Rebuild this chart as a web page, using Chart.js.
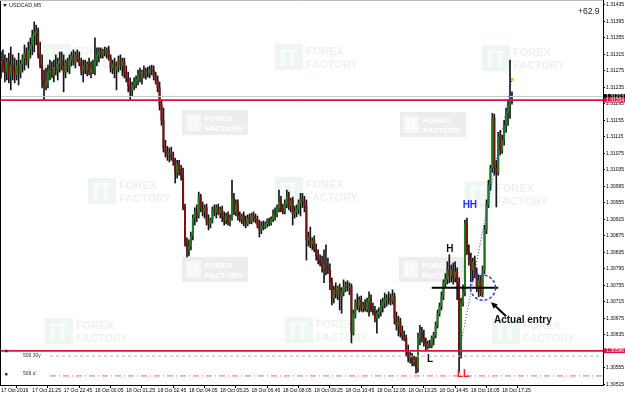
<!doctype html>
<html>
<head>
<meta charset="UTF-8">
<script src="https://cdn.jsdelivr.net/npm/chart.js"></script>
<style>
  html, body { margin: 0; padding: 0; background: #fff; }
</style>
</head>
<body>
<canvas id="chart" width="625" height="397"></canvas>
<script>
// USDCAD M5 bars from 17 Oct 2016 20:05
const openP = [
 1.31289,1.31301,1.31282,1.31272,1.31297,1.31265,1.31289,1.31277,1.31265,1.31287,
 1.31272,1.31292,1.31306,1.31318,1.31301,1.31326,1.31338,1.31362,1.31367,1.31374,
 1.31314,1.31289,1.31253,1.31241,1.31246,1.31272,1.31277,1.31265,1.31284,1.31277,
 1.31292,1.31301,1.31287,1.31272,1.31294,1.31282,1.31301,1.31311,1.31297,1.31314,
 1.31301,1.31294,1.31277,1.31287,1.31277,1.31292,1.31272,1.31282,1.31277,1.31301,
 1.31314,1.31321,1.31316,1.31323,1.31318,1.31326,1.31306,1.31282,1.31292,1.31277,
 1.31287,1.31301,1.31289,1.31297,1.31272,1.31258,1.31238,1.31229,1.31241,1.31248,
 1.31253,1.31265,1.31258,1.31272,1.31268,1.31272,1.31270,1.31277,1.31275,1.31263,
 1.31253,1.31234,1.31192,1.31155,1.31088,1.31078,1.31071,1.31075,1.31066,1.31058,
 1.31029,1.31049,1.31034,1.31022,1.30945,1.30858,1.30841,1.30850,1.30875,1.30918,
 1.30933,1.30923,1.30969,1.30940,1.30933,1.30943,1.30911,1.30904,1.30913,1.30938,
 1.30933,1.30943,1.30930,1.30938,1.30921,1.30913,1.30923,1.30909,1.30918,1.30966,
 1.30933,1.30950,1.30923,1.30918,1.30923,1.30909,1.30904,1.30918,1.30911,1.30923,
 1.30916,1.30913,1.30901,1.30889,1.30899,1.30896,1.30904,1.30911,1.30906,1.30916,
 1.30930,1.30926,1.30943,1.30957,1.30940,1.30935,1.30952,1.30971,1.30947,1.30960,
 1.30928,1.30933,1.30940,1.30955,1.30964,1.30957,1.30947,1.30865,1.30872,1.30855,
 1.30863,1.30843,1.30826,1.30816,1.30809,1.30797,1.30802,1.30797,1.30792,1.30763,
 1.30724,1.30744,1.30734,1.30749,1.30729,1.30739,1.30751,1.30756,1.30749,1.30753,
 1.30641,1.30685,1.30712,1.30704,1.30720,1.30700,1.30707,1.30697,1.30714,1.30724,
 1.30697,1.30690,1.30675,1.30685,1.30690,1.30704,1.30714,1.30720,1.30724,1.30722,
 1.30717,1.30729,1.30675,1.30658,1.30666,1.30639,1.30632,1.30627,1.30593,1.30578,
 1.30583,1.30569,1.30573,1.30554,1.30629,1.30639,1.30627,1.30615,1.30607,1.30612,
 1.30607,1.30627,1.30634,1.30658,1.30687,1.30704,1.30729,1.30761,1.30770,1.30792,
 1.30778,1.30792,1.30773,1.30787,1.30763,1.30593,1.30712,1.30739,1.30904,1.30836,
 1.30816,1.30792,1.30812,1.30783,1.30749,1.30768,1.30736,1.30792,1.30889,1.30950,
 1.30998,1.31039,1.31160,1.31039,1.31029,1.31117,1.31083,1.31107,1.31143,1.31175,
 1.31192,1.31209
];
const highP = [
 1.31321,1.31326,1.31314,1.31306,1.31318,1.31333,1.31314,1.31306,1.31301,1.31318,
 1.31301,1.31314,1.31338,1.31331,1.31345,1.31355,1.31374,1.31394,1.31386,1.31379,
 1.31345,1.31314,1.31277,1.31282,1.31289,1.31301,1.31297,1.31301,1.31314,1.31306,
 1.31321,1.31321,1.31314,1.31301,1.31306,1.31314,1.31321,1.31326,1.31321,1.31326,
 1.31321,1.31306,1.31301,1.31301,1.31297,1.31306,1.31297,1.31301,1.31355,1.31331,
 1.31331,1.31331,1.31328,1.31333,1.31331,1.31335,1.31314,1.31301,1.31306,1.31297,
 1.31311,1.31314,1.31306,1.31306,1.31287,1.31272,1.31258,1.31248,1.31258,1.31263,
 1.31277,1.31282,1.31277,1.31287,1.31282,1.31284,1.31287,1.31289,1.31287,1.31272,
 1.31263,1.31248,1.31204,1.31185,1.31107,1.31092,1.31088,1.31090,1.31078,1.31063,
 1.31058,1.31058,1.31046,1.31039,1.30952,1.30870,1.30865,1.30884,1.30926,1.30943,
 1.30950,1.30981,1.30976,1.30957,1.30950,1.30952,1.30926,1.30918,1.30945,1.30950,
 1.30950,1.30952,1.30945,1.30947,1.30933,1.30930,1.30933,1.30926,1.31010,1.30978,
 1.30962,1.30962,1.30933,1.30928,1.30933,1.30923,1.30926,1.30928,1.30930,1.30933,
 1.30928,1.30923,1.30913,1.30909,1.30911,1.30909,1.30916,1.30918,1.30921,1.30938,
 1.30943,1.30950,1.30986,1.30971,1.30952,1.30962,1.30986,1.30981,1.30966,1.30969,
 1.30947,1.30950,1.30962,1.30978,1.30978,1.30971,1.30962,1.30884,1.30896,1.30870,
 1.30875,1.30855,1.30841,1.30829,1.30826,1.30841,1.30853,1.30821,1.30807,1.30773,
 1.30753,1.30761,1.30753,1.30758,1.30749,1.30768,1.30763,1.30766,1.30761,1.30758,
 1.30695,1.30720,1.30734,1.30727,1.30729,1.30714,1.30720,1.30724,1.30739,1.30732,
 1.30712,1.30704,1.30695,1.30700,1.30720,1.30724,1.30736,1.30732,1.30739,1.30734,
 1.30744,1.30736,1.30690,1.30680,1.30675,1.30656,1.30644,1.30634,1.30610,1.30593,
 1.30590,1.30583,1.30581,1.30639,1.30658,1.30653,1.30646,1.30627,1.30620,1.30622,
 1.30632,1.30641,1.30666,1.30695,1.30712,1.30739,1.30768,1.30783,1.30812,1.30829,
 1.30804,1.30809,1.30812,1.30797,1.30773,1.30724,1.30756,1.30913,1.30918,1.30853,
 1.30833,1.30821,1.30826,1.30797,1.30780,1.30778,1.30802,1.30901,1.30962,1.31010,
 1.31046,1.31172,1.31170,1.31058,1.31126,1.31131,1.31119,1.31155,1.31185,1.31204,
 1.31301,1.31224
];
const lowP = [
 1.31258,1.31272,1.31248,1.31253,1.31246,1.31229,1.31253,1.31246,1.31253,1.31241,
 1.31258,1.31272,1.31277,1.31289,1.31282,1.31306,1.31314,1.31321,1.31338,1.31306,
 1.31282,1.31234,1.31204,1.31229,1.31234,1.31253,1.31258,1.31248,1.31265,1.31253,
 1.31272,1.31277,1.31224,1.31258,1.31272,1.31268,1.31287,1.31289,1.31282,1.31297,
 1.31287,1.31265,1.31248,1.31268,1.31263,1.31265,1.31258,1.31268,1.31265,1.31287,
 1.31297,1.31306,1.31306,1.31311,1.31306,1.31301,1.31272,1.31268,1.31258,1.31229,
 1.31272,1.31277,1.31263,1.31258,1.31248,1.31224,1.31204,1.31214,1.31229,1.31234,
 1.31241,1.31248,1.31243,1.31258,1.31255,1.31260,1.31258,1.31265,1.31253,1.31243,
 1.31224,1.31180,1.31143,1.31078,1.31066,1.31058,1.31054,1.31058,1.31046,1.31003,
 1.31015,1.31022,1.31010,1.30938,1.30850,1.30824,1.30826,1.30841,1.30865,1.30901,
 1.30909,1.30918,1.30933,1.30923,1.30918,1.30901,1.30889,1.30894,1.30906,1.30923,
 1.30918,1.30926,1.30918,1.30909,1.30901,1.30904,1.30901,1.30899,1.30913,1.30926,
 1.30923,1.30913,1.30909,1.30904,1.30899,1.30894,1.30899,1.30904,1.30904,1.30909,
 1.30906,1.30894,1.30872,1.30880,1.30889,1.30892,1.30896,1.30899,1.30901,1.30909,
 1.30913,1.30921,1.30933,1.30933,1.30928,1.30928,1.30943,1.30938,1.30933,1.30901,
 1.30918,1.30921,1.30928,1.30923,1.30943,1.30933,1.30816,1.30850,1.30846,1.30841,
 1.30836,1.30816,1.30807,1.30802,1.30787,1.30761,1.30780,1.30783,1.30744,1.30707,
 1.30712,1.30724,1.30720,1.30695,1.30687,1.30729,1.30739,1.30741,1.30732,1.30615,
 1.30634,1.30675,1.30695,1.30690,1.30692,1.30690,1.30692,1.30690,1.30680,1.30690,
 1.30683,1.30666,1.30639,1.30675,1.30680,1.30690,1.30700,1.30704,1.30709,1.30707,
 1.30709,1.30661,1.30646,1.30632,1.30629,1.30622,1.30620,1.30583,1.30569,1.30566,
 1.30559,1.30559,1.30542,1.30544,1.30610,1.30617,1.30607,1.30598,1.30600,1.30603,
 1.30603,1.30610,1.30627,1.30651,1.30680,1.30695,1.30720,1.30749,1.30758,1.30761,
 1.30763,1.30758,1.30763,1.30720,1.30544,1.30578,1.30704,1.30729,1.30829,1.30804,
 1.30763,1.30768,1.30773,1.30739,1.30727,1.30729,1.30727,1.30783,1.30880,1.30943,
 1.30986,1.31029,1.31022,1.30945,1.31022,1.31071,1.31075,1.31095,1.31126,1.31143,
 1.31160,1.31194
];
const closeP = [
 1.31301,1.31282,1.31272,1.31297,1.31265,1.31289,1.31277,1.31265,1.31287,1.31272,
 1.31292,1.31306,1.31318,1.31301,1.31326,1.31338,1.31362,1.31367,1.31374,1.31314,
 1.31289,1.31253,1.31241,1.31246,1.31272,1.31277,1.31265,1.31284,1.31277,1.31292,
 1.31301,1.31287,1.31272,1.31294,1.31282,1.31301,1.31311,1.31297,1.31314,1.31301,
 1.31294,1.31277,1.31287,1.31277,1.31292,1.31272,1.31282,1.31277,1.31301,1.31314,
 1.31321,1.31316,1.31323,1.31318,1.31326,1.31306,1.31282,1.31292,1.31277,1.31287,
 1.31301,1.31289,1.31297,1.31272,1.31258,1.31238,1.31229,1.31241,1.31248,1.31253,
 1.31265,1.31258,1.31272,1.31268,1.31272,1.31270,1.31277,1.31275,1.31263,1.31253,
 1.31234,1.31192,1.31155,1.31088,1.31078,1.31071,1.31075,1.31066,1.31058,1.31029,
 1.31049,1.31034,1.31022,1.30945,1.30858,1.30841,1.30850,1.30875,1.30918,1.30933,
 1.30923,1.30969,1.30940,1.30933,1.30943,1.30911,1.30904,1.30913,1.30938,1.30933,
 1.30943,1.30930,1.30938,1.30921,1.30913,1.30923,1.30909,1.30918,1.30966,1.30933,
 1.30950,1.30923,1.30918,1.30923,1.30909,1.30904,1.30918,1.30911,1.30923,1.30916,
 1.30913,1.30901,1.30889,1.30899,1.30896,1.30904,1.30911,1.30906,1.30916,1.30930,
 1.30926,1.30943,1.30957,1.30940,1.30935,1.30952,1.30971,1.30947,1.30960,1.30928,
 1.30933,1.30940,1.30955,1.30964,1.30957,1.30947,1.30865,1.30872,1.30855,1.30863,
 1.30843,1.30826,1.30816,1.30809,1.30797,1.30802,1.30797,1.30792,1.30763,1.30724,
 1.30744,1.30734,1.30749,1.30729,1.30739,1.30751,1.30756,1.30749,1.30753,1.30641,
 1.30685,1.30712,1.30704,1.30720,1.30700,1.30707,1.30697,1.30714,1.30724,1.30697,
 1.30690,1.30675,1.30685,1.30690,1.30704,1.30714,1.30720,1.30724,1.30722,1.30717,
 1.30729,1.30675,1.30658,1.30666,1.30639,1.30632,1.30627,1.30593,1.30578,1.30583,
 1.30569,1.30573,1.30554,1.30629,1.30639,1.30627,1.30615,1.30607,1.30612,1.30607,
 1.30627,1.30634,1.30658,1.30687,1.30704,1.30729,1.30761,1.30770,1.30792,1.30778,
 1.30792,1.30773,1.30787,1.30763,1.30593,1.30712,1.30739,1.30904,1.30836,1.30816,
 1.30792,1.30812,1.30783,1.30749,1.30768,1.30736,1.30792,1.30889,1.30950,1.30998,
 1.31039,1.31160,1.31039,1.31029,1.31117,1.31083,1.31107,1.31143,1.31175,1.31192,
 1.31209,1.31213
];

// time axis labels, one every 16 bars (80 min)
const timeLabels = ['17 Oct 2016', '17 Oct 21:25', '17 Oct 22:45', '18 Oct 00:05', '18 Oct 01:25',
  '18 Oct 02:45', '18 Oct 04:05', '18 Oct 05:25', '18 Oct 06:45', '18 Oct 08:05', '18 Oct 09:25',
  '18 Oct 10:45', '18 Oct 12:05', '18 Oct 13:25', '18 Oct 14:45', '18 Oct 16:05', '18 Oct 17:25'];
const timeTickBars = [0, 16, 32, 48, 64, 80, 96, 112, 128, 144, 160, 176, 192, 208, 224, 240, 256];

const priceTicks = [1.30515, 1.30555, 1.30595, 1.30635, 1.30675, 1.30715, 1.30755, 1.30795,
  1.30835, 1.30875, 1.30915, 1.30955, 1.30995, 1.31035, 1.31075, 1.31115, 1.31155, 1.31195,
  1.31235, 1.31275, 1.31315, 1.31355, 1.31395, 1.31435];

// horizontal objects on the chart
const bidPrice = 1.31213;
const redLevels = [1.31204, 1.30596];
const greyDashLevel = 1.30583;
const pinkDashLevel = 1.30535;

const bull = '#1d7a21';
const bear = '#7e0f0f';
const font = '"Liberation Sans", Arial, sans-serif';

const wicks = highP.map((h, i) => ({ x: i, y: [lowP[i], h] }));
const bodies = openP.map((o, i) => ({ x: i, y: [o, closeP[i]] }));

function logo(ctx, x, y, w, h, col) {
  ctx.fillStyle = col;
  ctx.fillRect(x, y, w, h);
  ctx.fillStyle = '#fff';
  ctx.globalAlpha = 0.6;
  ctx.fillRect(x + w * 0.2, y + h * 0.2, w * 0.15, h * 0.65);
  ctx.fillRect(x + w * 0.55, y + h * 0.2, w * 0.15, h * 0.65);
  ctx.fillRect(x + w * 0.2, y + h * 0.2, w * 0.6, h * 0.12);
  ctx.globalAlpha = 1;
}

function watermark(ctx, x, y, grey) {
  ctx.save();
  ctx.textBaseline = 'alphabetic';
  if (grey) {
    ctx.fillStyle = '#ededf0';
    ctx.fillRect(x, y, 66, 25);
    logo(ctx, x + 4, y + 4, 15, 17, '#f7f7f8');
    ctx.fillStyle = '#fff';
    ctx.font = 'bold 8px ' + font;
    ctx.fillText('FOREX', x + 23, y + 11);
    ctx.fillText('FACTORY', x + 23, y + 21);
  } else {
    logo(ctx, x, y, 28, 26, '#edf6ef');
    ctx.fillStyle = '#eaf4ec';
    ctx.font = 'bold 11px ' + font;
    ctx.fillText('FOREX', x + 31, y + 11);
    ctx.fillText('FACTORY', x + 31, y + 24);
  }
  ctx.restore();
}

const greenMarks = [[43, 44], [275, 44], [482, 45], [88, 178], [275, 177], [465, 181], [45, 318], [285, 317], [492, 318]];
const greyMarks = [[182, 110], [400, 112], [182, 257], [399, 257]];

const overlay = {
  id: 'overlay',
  beforeDatasetsDraw(chart) {
    const ctx = chart.ctx;
    greenMarks.forEach(m => watermark(ctx, m[0], m[1], false));
    greyMarks.forEach(m => watermark(ctx, m[0], m[1], true));
  },
  afterDatasetsDraw(chart) {
    const ctx = chart.ctx, xs = chart.scales.x, ys = chart.scales.y;
    const a = chart.chartArea;
    const X = v => xs.getPixelForValue(v), Y = v => ys.getPixelForValue(v);
    ctx.save();
    // bid line
    ctx.strokeStyle = '#c9c9c9'; ctx.lineWidth = 1;
    ctx.beginPath(); ctx.moveTo(a.left, Y(bidPrice)); ctx.lineTo(a.right, Y(bidPrice)); ctx.stroke();
    // grey dashed and pink dash-dot
    ctx.setLineDash([3, 3]); ctx.strokeStyle = '#b8b8b8';
    ctx.beginPath(); ctx.moveTo(50, Y(greyDashLevel)); ctx.lineTo(a.right, Y(greyDashLevel)); ctx.stroke();
    ctx.setLineDash([6, 3, 1, 3]); ctx.strokeStyle = '#ff5c82';
    ctx.beginPath(); ctx.moveTo(50, Y(pinkDashLevel)); ctx.lineTo(a.right, Y(pinkDashLevel)); ctx.stroke();
    ctx.setLineDash([]);
    // red levels
    ctx.strokeStyle = '#e0123f'; ctx.lineWidth = 1.8;
    redLevels.forEach(p => { ctx.beginPath(); ctx.moveTo(a.left, Y(p)); ctx.lineTo(a.right, Y(p)); ctx.stroke(); });

    // entry level segment
    ctx.strokeStyle = '#000'; ctx.lineWidth = 2;
    ctx.beginPath(); ctx.moveTo(X(220), Y(1.30749)); ctx.lineTo(X(254), Y(1.30749)); ctx.stroke();

    // dotted trend line LL -> top
    ctx.strokeStyle = '#2b35ff'; ctx.lineWidth = 1; ctx.setLineDash([1, 2]);
    ctx.beginPath(); ctx.moveTo(X(234), Y(1.30590)); ctx.lineTo(X(261), Y(1.31255)); ctx.stroke();
    // dashed circle round the entry
    ctx.lineWidth = 1.5; ctx.setLineDash([3, 2]);
    ctx.beginPath(); ctx.arc(X(246.2), Y(1.30749), 12.5, 0, Math.PI * 2); ctx.stroke();
    ctx.setLineDash([]);
    ctx.fillStyle = '#ffa500';
    ctx.fillRect(X(261) - 1, Y(1.31255) - 1, 2.5, 2.5);

    // arrow
    const x1 = X(258), y1 = Y(1.30680), x2 = X(250.3), y2 = Y(1.30714);
    ctx.strokeStyle = '#000'; ctx.fillStyle = '#000'; ctx.lineWidth = 2;
    ctx.beginPath(); ctx.moveTo(x1, y1); ctx.lineTo(x2 + 3, y2 + 2.6); ctx.stroke();
    const ang = Math.atan2(y2 - y1, x2 - x1);
    ctx.beginPath();
    ctx.moveTo(x2, y2);
    ctx.lineTo(x2 - 7 * Math.cos(ang - 0.45), y2 - 7 * Math.sin(ang - 0.45));
    ctx.lineTo(x2 - 7 * Math.cos(ang + 0.45), y2 - 7 * Math.sin(ang + 0.45));
    ctx.closePath(); ctx.fill();

    // labels
    ctx.textBaseline = 'middle';
    ctx.font = 'bold 10px ' + font;
    ctx.textAlign = 'left';
    ctx.fillStyle = '#111';
    ctx.fillText('Actual entry', X(251.8), Y(1.30671));
    ctx.textAlign = 'center';
    ctx.fillText('H', X(229.3), Y(1.30843));
    ctx.fillText('L', X(219.1), Y(1.30576));
    ctx.fillStyle = '#2233ff';
    ctx.fillText('HH', X(239.5), Y(1.30950));
    ctx.fillStyle = '#ff1a1a';
    ctx.fillText('LL', X(236), Y(1.30540));

    // object descriptions at the left
    ctx.textAlign = 'left';
    ctx.font = '5px ' + font;
    ctx.fillStyle = '#333';
    ctx.fillText('509.30y', 23, Y(greyDashLevel) - 1);
    ctx.fillText('509 d', 23, Y(pinkDashLevel) - 2);
    ctx.fillRect(5, Y(redLevels[1]) - 1, 2.5, 2.5);
    ctx.fillRect(5, Y(pinkDashLevel) - 3, 2.5, 2.5);
    ctx.restore();
  },
  afterDraw(chart) {
    const ctx = chart.ctx, ys = chart.scales.y, a = chart.chartArea;
    ctx.save();
    // frame
    ctx.strokeStyle = '#000'; ctx.lineWidth = 1;
    ctx.beginPath(); ctx.moveTo(0.5, 0); ctx.lineTo(0.5, a.bottom); ctx.stroke();
    ctx.strokeStyle = '#bbb';
    ctx.beginPath(); ctx.moveTo(0, 0.5); ctx.lineTo(a.right, 0.5); ctx.stroke();
    // price boxes
    const box = (p, bg) => {
      const y = ys.getPixelForValue(p);
      ctx.fillStyle = bg; ctx.fillRect(a.right + 1, y - 2.4, 22, 4.8);
      ctx.fillStyle = '#fff'; ctx.font = '5px ' + font; ctx.textBaseline = 'middle'; ctx.textAlign = 'left';
      ctx.fillText(p.toFixed(5), a.right + 3, y + 0.2);
    };
    box(bidPrice, '#000');
    redLevels.forEach(p => box(p, '#e0123f'));
    // title and profit
    ctx.fillStyle = '#222';
    ctx.beginPath(); ctx.moveTo(3, 4); ctx.lineTo(7, 4); ctx.lineTo(5, 7); ctx.closePath(); ctx.fill();
    ctx.font = '5.5px ' + font; ctx.textBaseline = 'middle'; ctx.textAlign = 'left';
    ctx.fillText('USDCAD,M5', 9, 5.5);
    ctx.font = '8.5px ' + font;
    ctx.fillText('+62.9', 578, 12);
    ctx.restore();
  }
};

new Chart(document.getElementById('chart'), {
  type: 'bar',
  data: {
    datasets: [
      {
        data: wicks,
        backgroundColor: '#161616',
        barThickness: 1,
        grouped: false,
        order: 2
      },
      {
        data: bodies,
        backgroundColor: ctx => {
          const i = ctx.dataIndex;
          return closeP[i] >= openP[i] ? bull : bear;
        },
        barThickness: 1.4,
        minBarLength: 1,
        grouped: false,
        order: 1
      }
    ]
  },
  options: {
    responsive: false,
    animation: false,
    layout: { padding: 0 },
    plugins: { legend: { display: false }, tooltip: { enabled: false } },
    scales: {
      x: {
        type: 'linear',
        min: -0.5,
        max: 307.5,
        offset: false,
        afterBuildTicks: s => { s.ticks = timeTickBars.map(v => ({ value: v })); },
        afterFit: s => { s.height = 12; s.paddingLeft = 0; s.paddingRight = 0; },
        grid: { drawOnChartArea: false, color: '#000', tickLength: 3 },
        border: { color: '#000' },
        ticks: {
          autoSkip: false, maxRotation: 0, align: 'start', padding: 0,
          color: '#000', font: { family: font, size: 5 },
          callback: (v, idx) => timeLabels[idx]
        }
      },
      y: {
        position: 'right',
        min: 1.30513,
        max: 1.31447,
        afterBuildTicks: s => { s.ticks = priceTicks.map(v => ({ value: v })); },
        afterFit: s => { s.width = 22; s.paddingTop = 0; s.paddingBottom = 0; },
        grid: { drawOnChartArea: false, color: '#000', tickLength: 2 },
        border: { color: '#000' },
        ticks: {
          autoSkip: false, padding: 1,
          color: '#000', font: { family: font, size: 5 },
          callback: v => v.toFixed(5)
        }
      }
    }
  },
  plugins: [overlay]
});
</script>
</body>
</html>
